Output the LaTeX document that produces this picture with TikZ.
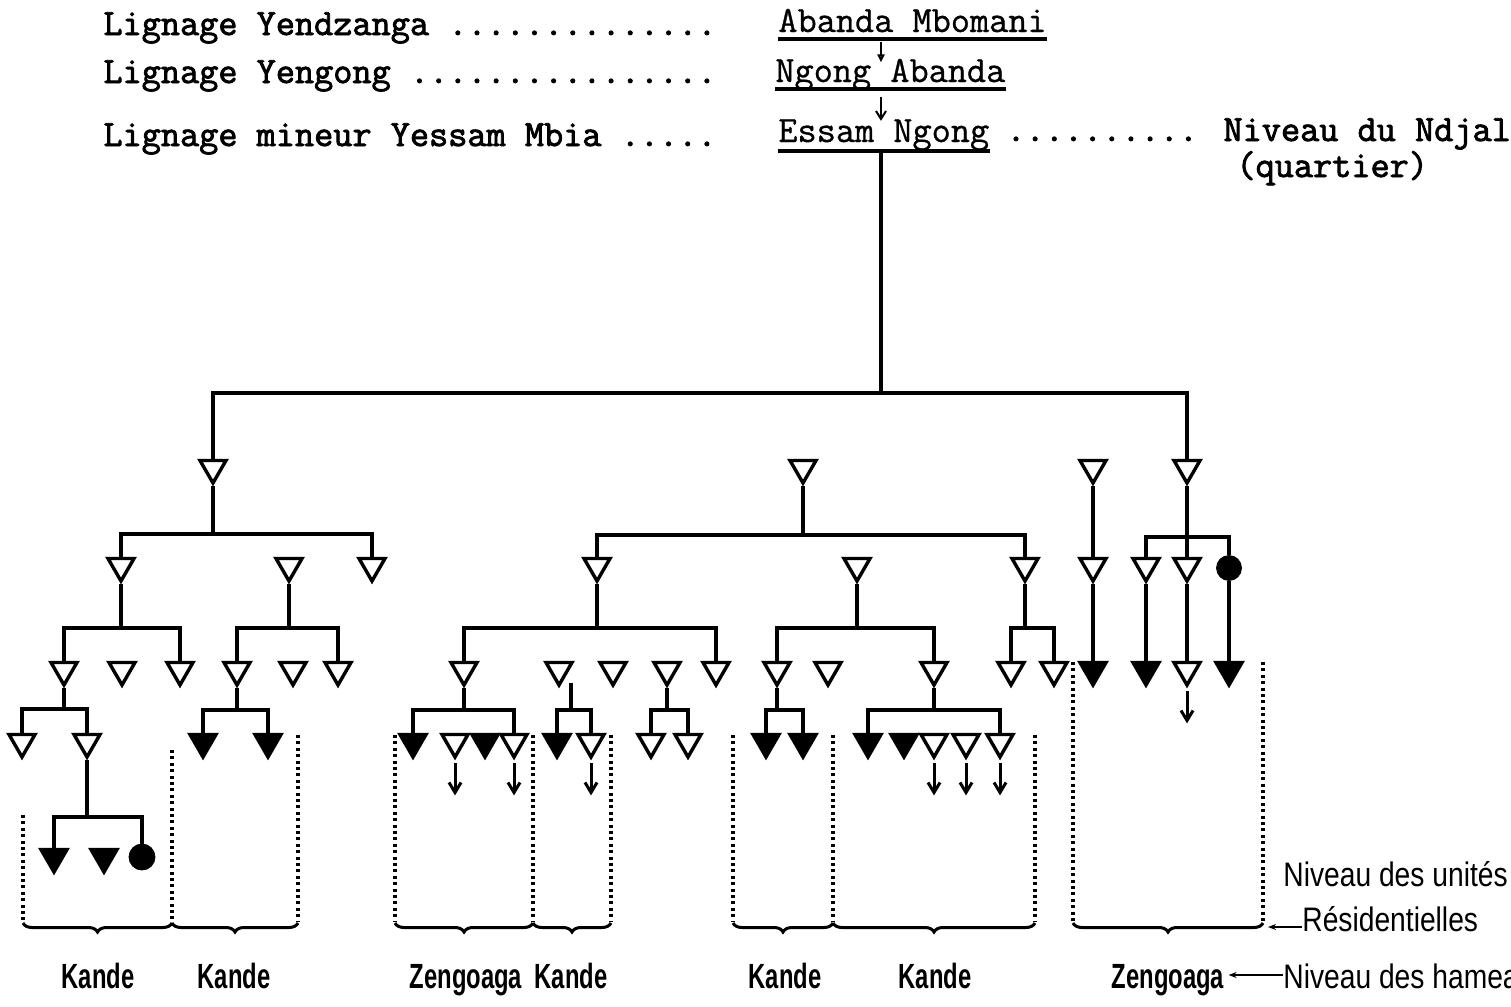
\documentclass[tikz,border=0pt]{standalone}
\usepackage{fontspec}
\newfontfamily\typo[FakeBold=0.8]{Latin Modern Mono}
\newfontfamily\typobold[FakeBold=2.2]{Latin Modern Mono}
\newfontfamily\hamfont[FakeStretch=0.68]{Liberation Sans}
\newfontfamily\nivfont[FakeStretch=0.83]{Liberation Sans}
\usetikzlibrary{shapes.geometric,arrows.meta,decorations.pathreplacing}
\begin{document}
\begin{tikzpicture}[
            x=0.5pt,
            y=-0.5pt,
            kin/.style={line width=2pt},
            male/.style={regular polygon, regular polygon sides=3, shape border rotate=180, draw, line width=1.7pt, minimum size=15pt, inner sep=0pt},
            maleres/.style={male, fill=black},
            female/.style={circle, draw, fill=black, minimum size=12.5pt, inner sep=0pt},
            lign/.style={font=\typobold\fontsize{18.6}{20}\selectfont, anchor=base west, inner sep=0pt},
            ancetre/.style={font=\typo\fontsize{18.6}{20}\selectfont, anchor=base west, inner sep=0pt},
            uline/.style={line width=1.6pt},
            desc/.style={line width=1pt},
            fleche/.style={line width=1.5pt, -{Straight Barb[length=5pt,width=6pt]}},
            sep/.style={line width=1.6pt, dash pattern=on 1.5pt off 1.7pt},
            accol/.style={line width=1.5pt, decorate, decoration={brace, mirror, amplitude=4.5pt}},
            hameau/.style={font=\hamfont\bfseries\fontsize{17.5}{19}\selectfont, anchor=base, inner sep=0pt},
            niveau/.style={font=\nivfont\fontsize{17}{19}\selectfont, anchor=base west, inner sep=0pt},
            renvoi/.style={line width=0.9pt, -{Stealth[length=4pt,width=3pt]}}
        ]
        \useasboundingbox (0,0) rectangle (1511,1007);
        \clip (0,0) rectangle (1511,1007);
        \node[lign] (yendz) at (103,35) {Lignage Yendzanga ..............};
        \node[lign] (yeng) at (103,83) {Lignage Yengong ................};
        \node[lign] (yessam) at (103,146) {Lignage mineur Yessam Mbia .....};
        \node[ancetre] (abanda) at (778,32) {Abanda Mbomani};
        \node[ancetre] (ngong) at (775,82) {Ngong Abanda};
        \node[ancetre] (essam) at (778,142) {Essam Ngong};
        \node[lign] (ndjal) at (1006,141) {.......... Niveau du Ndjal};
        \node[lign] (quartier) at (1236,177) {(quartier)};
        \draw[uline] ([yshift=-3.5pt]abanda.base west) -- ([yshift=-3.5pt]abanda.base east);
        \draw[uline] ([yshift=-3.5pt]ngong.base west) -- ([yshift=-3.5pt]ngong.base east);
        \draw[uline] ([yshift=-4.5pt]essam.base west) -- ([yshift=-4.5pt]essam.base east);
        \coordinate (ego) at (881,152);
        \coordinate (top) at (881,393);
        \draw[desc, -{Triangle[open, length=4pt, width=3.5pt]}, shorten <=4.5pt, shorten >=-2pt] (abanda.south -| ego) -- (ngong.north -| ego);
        \draw[desc, -{Straight Barb[length=4pt, width=5pt]}, shorten <=3pt, shorten >=-1pt] (ngong.south -| ego) -- (essam.north -| ego);
        \foreach \n/\x in {L1a/213, L1b/803, L1c/1093, L1d/1187} { \node[male] (\n) at (\x,468) {}; }
        \foreach \n/\x in {L2a/121, L2b/289, L2c/372, L2d/597, L2e/857, L2f/1025, L2g/1093, L2h/1146, L2i/1187} { \node[male] (\n) at (\x,566) {}; }
        \node[female] (L2j) at (1229,568) {};
        \foreach \n/\x in {a1/64, a2/122, a3/180, a4/237, a5/293, a6/338, b1/464, b2/559, b3/613, b4/667, b5/716, b6/777, b7/828, b8/934, b9/1011, b10/1054, c3/1187} { \node[male] (\n) at (\x,670) {}; }
        \foreach \n/\x in {c1/1093, c2/1146, c4/1229} { \node[maleres] (\n) at (\x,670) {}; }
        \foreach \n/\x in {d1/22, d2/87, d6/455, d8/514, d10/591, d11/651, d12/688, d17/934, d18/966, d19/1000} { \node[male] (\n) at (\x,742) {}; }
        \foreach \n/\x in {d3/203, d4/268, d5/413, d7/485, d9/557, d13/766, d14/803, d15/868, d16/904} { \node[maleres] (\n) at (\x,742) {}; }
        \foreach \n/\x in {e1/54, e2/104} { \node[maleres] (\n) at (\x,857) {}; }
        \node[female, minimum size=13pt] (e3) at (142,857) {};
        \draw[kin] (ego) -- (top) -| (L1a.north);
        \draw[kin] (top) -| (L1d.north);
        \foreach \p/\y/\cs in {L1a/534/{L2a,L2c}, L1b/535/{L2d,L2f}, L1d/537/{L2h,L2i,L2j}, L2a/628/{a1,a3}, L2b/628/{a4,a6}, L2d/628/{b1,b5}, L2e/628/{b6,b8}, L2f/628/{b9,b10}, a1/709/{d1,d2}, a4/710/{d3,d4}, b1/710/{d5,d8}, b4/710/{d11,d12}, b6/710/{d13,d14}, b8/710/{d15,d19}, d2/817/{e1,e3}} {
            \path (0,\y) coordinate (barre);
            \foreach \c in \cs {
                \draw[kin] (\p.south) -- (\p.south |- barre) -| (\c.north);
            }
        }
        \coordinate (b2s) at (571,683);
        \path (0,710) coordinate (barre);
        \draw[kin] (b2s) -- (b2s |- barre) -| (d9.north);
        \draw[kin] (b2s |- barre) -| (d10.north);
        \foreach \p/\c in {L1c/L2g, L2g/c1, L2h/c2, L2i/c3, L2j/c4} {
            \draw[kin] (\p.south) -- (\c.north);
        }
        \foreach \n in {d6, d8, d10, d17, d18, d19, c3} {
            \draw[fleche] ([yshift=-1.5pt]\n.south) -- ++(0,32);
        }
        \foreach \x/\t in {23/815, 172/750, 298/735, 395/735, 533/735, 611/735, 733/735, 833/735, 1035/735, 1073/662, 1263/662} {
            \draw[sep] (\x,\t) -- (\x,921);
        }
        \foreach \a/\b in {23/172, 172/298, 395/533, 533/611, 733/833, 833/1035, 1073/1263} {
            \draw[accol] (\a,923) -- (\b,923);
        }
        \node[hameau] (k1) at (98,988) {Kande};
        \node[hameau] (k2) at (234,988) {Kande};
        \node[hameau] (z1) at (466,988) {Zengoaga};
        \node[hameau] (k3) at (571,988) {Kande};
        \node[hameau] (k4) at (785,988) {Kande};
        \node[hameau] (k5) at (935,988) {Kande};
        \node[hameau] (z2) at (1168,988) {Zengoaga};
        \node[niveau] (unites) at (1283,886) {Niveau des unités};
        \node[niveau] (resid) at (1302,931) {Résidentielles};
        \node[niveau] (hameaux) at (1283,988) {Niveau des hameaux};
        \coordinate (boxR) at (1268,927);
        \draw[renvoi] ([yshift=2pt]resid.base west) -- (boxR);
        \draw[renvoi, shorten >=2pt] ([yshift=6.5pt]hameaux.base west) -- ([yshift=6.5pt]z2.base east);
    \end{tikzpicture}
\end{document}
